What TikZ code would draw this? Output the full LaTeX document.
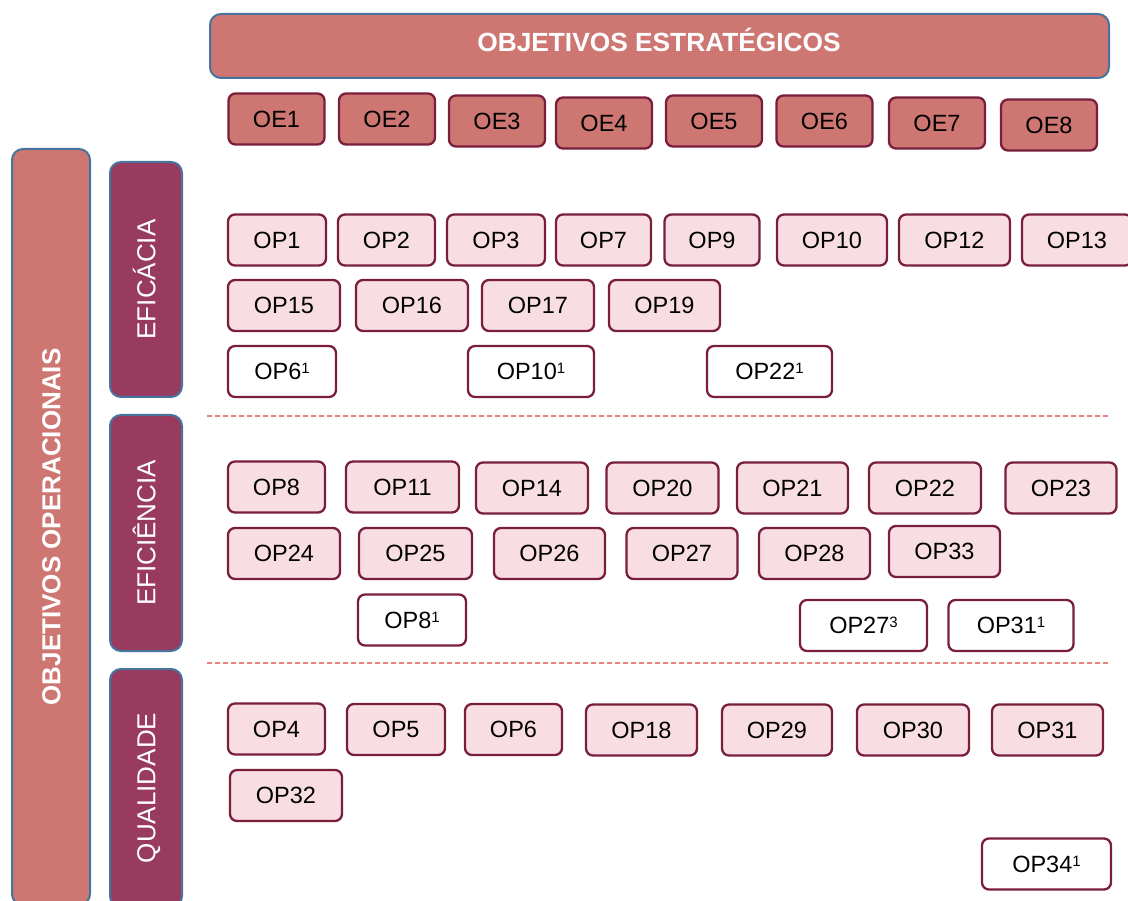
\documentclass[tikz,border=0pt]{standalone}
\usepackage{fontspec}
\setmainfont{Liberation Sans}
\definecolor{salmon}{RGB}{205,118,114}
\definecolor{catbar}{RGB}{153,59,94}
\definecolor{blueb}{RGB}{70,116,158}
\definecolor{boxborder}{RGB}{122,30,62}
\definecolor{oppink}{RGB}{248,222,226}
\definecolor{sepcol}{RGB}{232,128,128}
\newcommand\opsup[1]{\raisebox{6.2pt}{\fontsize{15}{15}\selectfont #1}}
\begin{document}
\begin{tikzpicture}[x=1pt,y=-1pt,
  box/.style={draw=boxborder, line width=2.3pt, rounded corners=7pt, text=black,
    font=\fontsize{23.5}{28}\selectfont, text height=16.8pt, text depth=0pt,
    inner sep=0pt, minimum height=51pt},
  oe/.style={box, fill=salmon, minimum width=96pt},
  op/.style={box, fill=oppink},
  opw/.style={box, fill=white},
  bigbar/.style={draw=blueb, line width=2pt, rounded corners=11pt, inner sep=0pt},
  cattext/.style={bigbar, fill=catbar, text=white, rotate=90, minimum height=72pt,
    font=\fontsize{26}{30}\selectfont, text height=18.6pt, text depth=0pt},
  sepline/.style={draw=sepcol, line width=1.2pt, dash pattern=on 5pt off 3pt}
]
\useasboundingbox (0,0) rectangle (1128,901);

% title bar
\node[bigbar, fill=salmon, minimum width=899pt, minimum height=64pt] (tb) at (659.5,46) {};
\node[text=white, font=\bfseries\fontsize{26.3}{30}\selectfont, text height=18.8pt, text depth=0pt, inner sep=0pt] (tbt) at (659,42) {OBJETIVOS ESTRATÉGICOS};

% left bar
\node[bigbar, fill=salmon, rotate=90, minimum width=756pt, minimum height=78pt, text=white,
  font=\bfseries\fontsize{26}{30}\selectfont, text height=18.6pt, text depth=0pt] (lb) at (51,527) {OBJETIVOS OPERACIONAIS};

% category bars
\node[cattext, minimum width=235pt] (c1) at (146,279.5) {EFICÁCIA};
\node[cattext, minimum width=236pt] (c2) at (146,533) {EFICIÊNCIA};
\node[cattext, minimum width=238pt] (c3) at (146,788) {QUALIDADE};

% separators
\coordinate (d1a) at (207,416); \coordinate (d1b) at (1108,416);
\coordinate (d2a) at (207,663); \coordinate (d2b) at (1108,663);
\draw[sepline] (d1a) -- (d1b);
\draw[sepline] (d2a) -- (d2b);

% OE
\node[oe] (oe1) at (276.5,119) {OE1};
\node[oe] (oe2) at (387,119) {OE2};
\node[oe] (oe3) at (497,121) {OE3};
\node[oe] (oe4) at (604,123) {OE4};
\node[oe] (oe5) at (714,121) {OE5};
\node[oe] (oe6) at (824.5,121) {OE6};
\node[oe] (oe7) at (937,123) {OE7};
\node[oe] (oe8) at (1049,125) {OE8};

% Eficacia
\node[op, minimum width=98pt] (op1) at (277,240) {OP1};
\node[op, minimum width=97pt] (op2) at (386.5,240) {OP2};
\node[op, minimum width=98pt] (op3) at (496,240) {OP3};
\node[op, minimum width=95pt] (op7) at (603.5,240) {OP7};
\node[op, minimum width=95pt] (op9) at (712,240) {OP9};
\node[op, minimum width=110pt] (op10) at (832,240) {OP10};
\node[op, minimum width=111pt] (op12) at (954.5,240) {OP12};
\node[op, minimum width=110pt] (op13) at (1077,240) {OP13};

\node[op, minimum width=112pt] (op15) at (284,305.5) {OP15};
\node[op, minimum width=112pt] (op16) at (412,305.5) {OP16};
\node[op, minimum width=112pt] (op17) at (538,305.5) {OP17};
\node[op, minimum width=111pt] (op19) at (664.5,305.5) {OP19};

\node[opw, minimum width=108pt] (op6a) at (282,371.5) {OP6\opsup{1}};
\node[opw, minimum width=126pt] (op10a) at (531,371.5) {OP10\opsup{1}};
\node[opw, minimum width=125pt] (op22a) at (769.5,371.5) {OP22\opsup{1}};

% Eficiencia
\node[op, minimum width=97pt] (op8) at (276.5,487) {OP8};
\node[op, minimum width=113pt] (op11) at (402.5,487) {OP11};
\node[op, minimum width=112pt] (op14) at (532,488) {OP14};
\node[op, minimum width=112pt] (op20) at (662.5,488) {OP20};
\node[op, minimum width=111pt] (op21) at (792.5,488) {OP21};
\node[op, minimum width=112pt] (op22) at (925,488) {OP22};
\node[op, minimum width=111pt] (op23) at (1061,488) {OP23};

\node[op, minimum width=112pt] (op24) at (284,553.5) {OP24};
\node[op, minimum width=113pt] (op25) at (415.5,553.5) {OP25};
\node[op, minimum width=111pt] (op26) at (549.5,553.5) {OP26};
\node[op, minimum width=111pt] (op27) at (682,553.5) {OP27};
\node[op, minimum width=111pt] (op28) at (814.5,553.5) {OP28};
\node[op, minimum width=111pt] (op33) at (944.5,551.5) {OP33};

\node[opw, minimum width=108pt] (op8a) at (412,620) {OP8\opsup{1}};
\node[opw, minimum width=127pt] (op27a) at (863.5,625.5) {OP27\opsup{3}};
\node[opw, minimum width=125pt] (op31a) at (1011,625.5) {OP31\opsup{1}};

% Qualidade
\node[op, minimum width=97pt] (op4) at (276.5,729) {OP4};
\node[op, minimum width=98pt] (op5) at (396,729.5) {OP5};
\node[op, minimum width=97pt] (op6) at (513.5,729.5) {OP6};
\node[op, minimum width=111pt] (op18) at (641.5,730) {OP18};
\node[op, minimum width=110pt] (op29) at (777,730) {OP29};
\node[op, minimum width=112pt] (op30) at (913,730) {OP30};
\node[op, minimum width=111pt] (op31) at (1047.5,730) {OP31};

\node[op, minimum width=112pt] (op32) at (286,795.5) {OP32};
\node[opw, minimum width=129pt] (op34a) at (1046.5,864) {OP34\opsup{1}};
\end{tikzpicture}
\end{document}
